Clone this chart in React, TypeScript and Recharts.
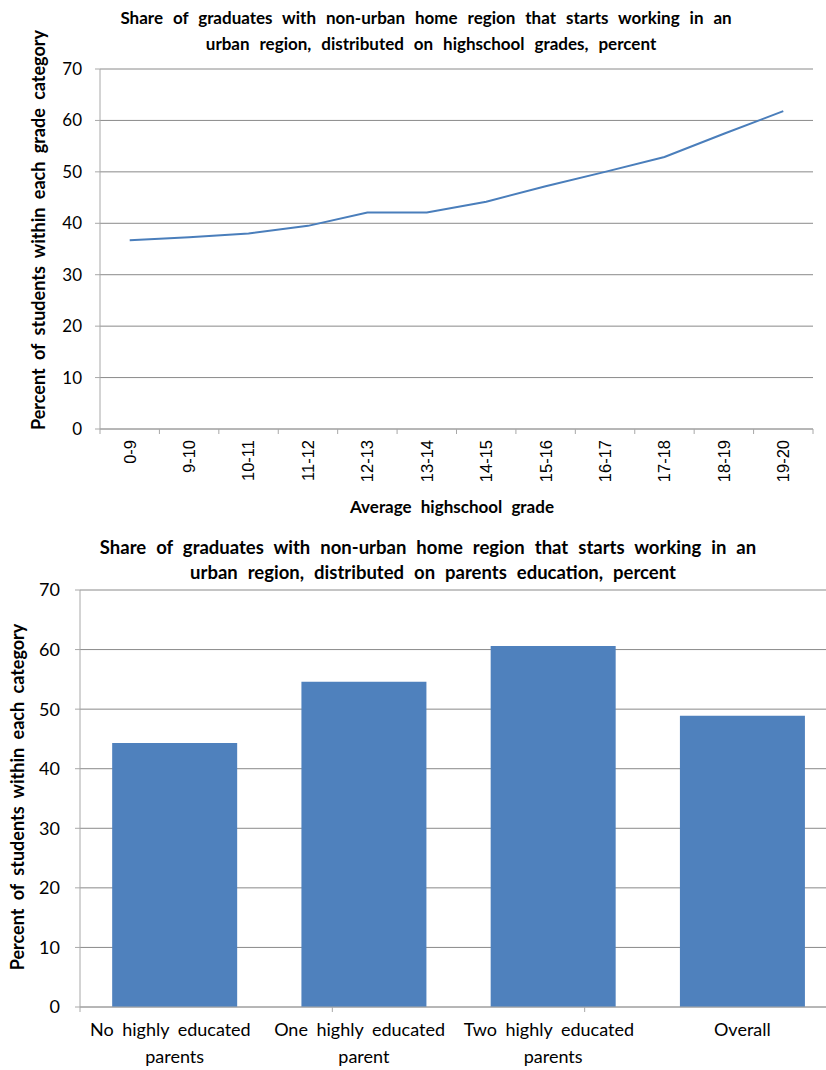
import React from "react";
import {
  LineChart,
  Line,
  BarChart,
  Bar,
  XAxis,
  YAxis,
  CartesianGrid,
} from "recharts";

const GRADES = [
  "0-9",
  "9-10",
  "10-11",
  "11-12",
  "12-13",
  "13-14",
  "14-15",
  "15-16",
  "16-17",
  "17-18",
  "18-19",
  "19-20",
];
const GRADE_SHARE = [36.7, 37.3, 38.0, 39.5, 42.1, 42.1, 44.2, 47.2, 50.0, 52.9, 57.4, 61.8];

const PARENT_GROUPS = [
  "No highly educated parents",
  "One highly educated parent",
  "Two highly educated parents",
  "Overall",
];
const PARENT_LINES = [
  ["No highly educated ", "parents"],
  ["One highly educated ", "parent"],
  ["Two highly educated ", "parents"],
  ["Overall"],
];
const PARENT_SHARE = [44.3, 54.6, 60.6, 48.9];

const Y_TICKS = [0, 10, 20, 30, 40, 50, 60, 70];

const TITLE_TOP = [
  "Share of graduates with non-urban home region that starts working in an ",
  "urban region, distributed on highschool grades, percent",
];
const TITLE_BOTTOM = [
  "Share of graduates with non-urban home region that starts working in an ",
  "urban region, distributed on parents education, percent",
];
const Y_LABEL_TOP = "Percent of students within each grade category";
const Y_LABEL_BOTTOM = "Percent of students within each category";
const X_LABEL_TOP = "Average highschool grade";

const FONT = "Lato, 'Open Sans', sans-serif";
const TICK_FONT = "'Liberation Sans', Arial, sans-serif";
const GRID = "#8a8a8a";
const AXIS = "#a8a8a8";
const LINE = "#4a7ebb";
const BAR = "#4f81bd";

const gradeData = GRADES.map((g, i) => ({ grade: g, pos: i + 0.5, share: GRADE_SHARE[i] }));
const parentData = PARENT_GROUPS.map((g, i) => ({ group: g, share: PARENT_SHARE[i] }));

function GradeTick(props: any) {
  const { x, y, payload } = props;
  const label = GRADES[Math.floor(payload.value)];
  return (
    <text
      x={x}
      y={y}
      dy="0.36em"
      transform={`rotate(-90, ${x}, ${y})`}
      textAnchor="end"
      fontSize={16.5}
      fontFamily={TICK_FONT}
      fill="#000"
    >
      {label}
    </text>
  );
}

function ParentTick(props: any) {
  const { x, y, index } = props;
  const lines = PARENT_LINES[index] ?? [];
  return (
    <text x={x} y={y} textAnchor="middle" fontSize={18} fontFamily={FONT} fill="#000" wordSpacing={4}>
      {lines.map((l, i) => (
        <tspan key={i} x={x} dy={i === 0 ? "1em" : 27}>
          {l}
        </tspan>
      ))}
    </text>
  );
}

const titleStyle: React.CSSProperties = {
  position: "absolute",
  left: 0,
  width: 862,
  textAlign: "center",
  fontWeight: 700,
  whiteSpace: "pre",
};

function VLabel({
  cx,
  cy,
  size,
  text,
  spacing,
}: {
  cx: number;
  cy: number;
  size: number;
  text: string;
  spacing: number;
}) {
  return (
    <div
      style={{
        position: "absolute",
        left: cx - 250,
        top: cy - 12,
        width: 500,
        height: 24,
        lineHeight: "24px",
        textAlign: "center",
        fontWeight: 700,
        fontSize: size,
        wordSpacing: spacing,
        transform: "rotate(-90deg)",
      }}
    >
      {text}
    </div>
  );
}

export default function App() {
  const emptyTick = () => <g />;
  return (
    <div
      style={{
        position: "absolute",
        left: 0,
        top: 0,
        width: 826,
        height: 1070,
        overflow: "hidden",
        background: "#fff",
        fontFamily: FONT,
        color: "#000",
      }}
    >
      <div style={{ ...titleStyle, top: 5, lineHeight: "26px", fontSize: 17, wordSpacing: 5.8 }}>
        {TITLE_TOP[0]}
        <br />
        {TITLE_TOP[1]}
      </div>

      <div style={{ position: "absolute", left: 0, top: 0 }}>
        <LineChart
          width={826}
          height={530}
          data={gradeData}
          margin={{ top: 69, right: 13, bottom: 30, left: 60 }}
        >
          <CartesianGrid vertical={false} stroke={GRID} />
          <XAxis
            xAxisId="a"
            type="number"
            dataKey="pos"
            domain={[0, GRADES.length]}
            ticks={[...GRADES.map((_, i) => i), GRADES.length]}
            tick={emptyTick}
            tickSize={5}
            height={5}
            stroke={AXIS}
            allowDataOverflow
          />
          <XAxis
            xAxisId="b"
            type="number"
            dataKey="pos"
            domain={[0, GRADES.length]}
            ticks={GRADES.map((_, i) => i + 0.5)}
            tick={<GradeTick />}
            axisLine={false}
            tickLine={false}
            tickSize={0}
            tickMargin={6}
            height={66}
            interval={0}
            allowDataOverflow
          />
          <YAxis
            domain={[0, 70]}
            ticks={Y_TICKS}
            width={40}
            tickSize={5}
            tickMargin={13}
            stroke={AXIS}
            tick={{ fill: "#000", fontSize: 17, fontFamily: FONT }}
          />
          <Line
            xAxisId="a"
            dataKey="share"
            stroke={LINE}
            strokeWidth={2}
            dot={false}
            isAnimationActive={false}
          />
        </LineChart>
      </div>

      <VLabel cx={38} cy={230} size={18} text={Y_LABEL_TOP} spacing={4} />
      <div
        style={{
          position: "absolute",
          left: 252,
          top: 496,
          width: 400,
          textAlign: "center",
          fontWeight: 700,
          fontSize: 17,
          lineHeight: "22px",
          wordSpacing: 5,
        }}
      >
        {X_LABEL_TOP}
      </div>

      <div
        style={{
          ...titleStyle,
          top: 535,
          left: 2,
          lineHeight: "25px",
          fontSize: 18.5,
          wordSpacing: 5.5,
        }}
      >
        {TITLE_BOTTOM[0]}
        <br />
        {TITLE_BOTTOM[1]}
      </div>

      <div style={{ position: "absolute", left: 0, top: 530 }}>
        <BarChart
          width={850}
          height={540}
          data={parentData}
          margin={{ top: 60, right: 13, bottom: 0, left: 40 }}
          barCategoryGap="17%"
        >
          <CartesianGrid vertical={false} stroke={GRID} />
          <XAxis
            xAxisId="a"
            type="number"
            domain={[0, PARENT_GROUPS.length]}
            ticks={[...PARENT_GROUPS.map((_, i) => i), PARENT_GROUPS.length]}
            tick={emptyTick}
            tickSize={5}
            height={5}
            stroke={AXIS}
          />
          <XAxis
            xAxisId="b"
            dataKey="group"
            tick={<ParentTick />}
            axisLine={false}
            tickLine={false}
            tickSize={0}
            tickMargin={6}
            height={58}
            interval={0}
          />
          <YAxis
            domain={[0, 70]}
            ticks={Y_TICKS}
            width={40}
            tickSize={5}
            tickMargin={15}
            stroke={AXIS}
            tick={{ fill: "#000", fontSize: 18, fontFamily: FONT }}
          />
          <Bar xAxisId="b" dataKey="share" fill={BAR} isAnimationActive={false} />
        </BarChart>
      </div>

      <VLabel cx={17} cy={797} size={18} text={Y_LABEL_BOTTOM} spacing={4} />
    </div>
  );
}
